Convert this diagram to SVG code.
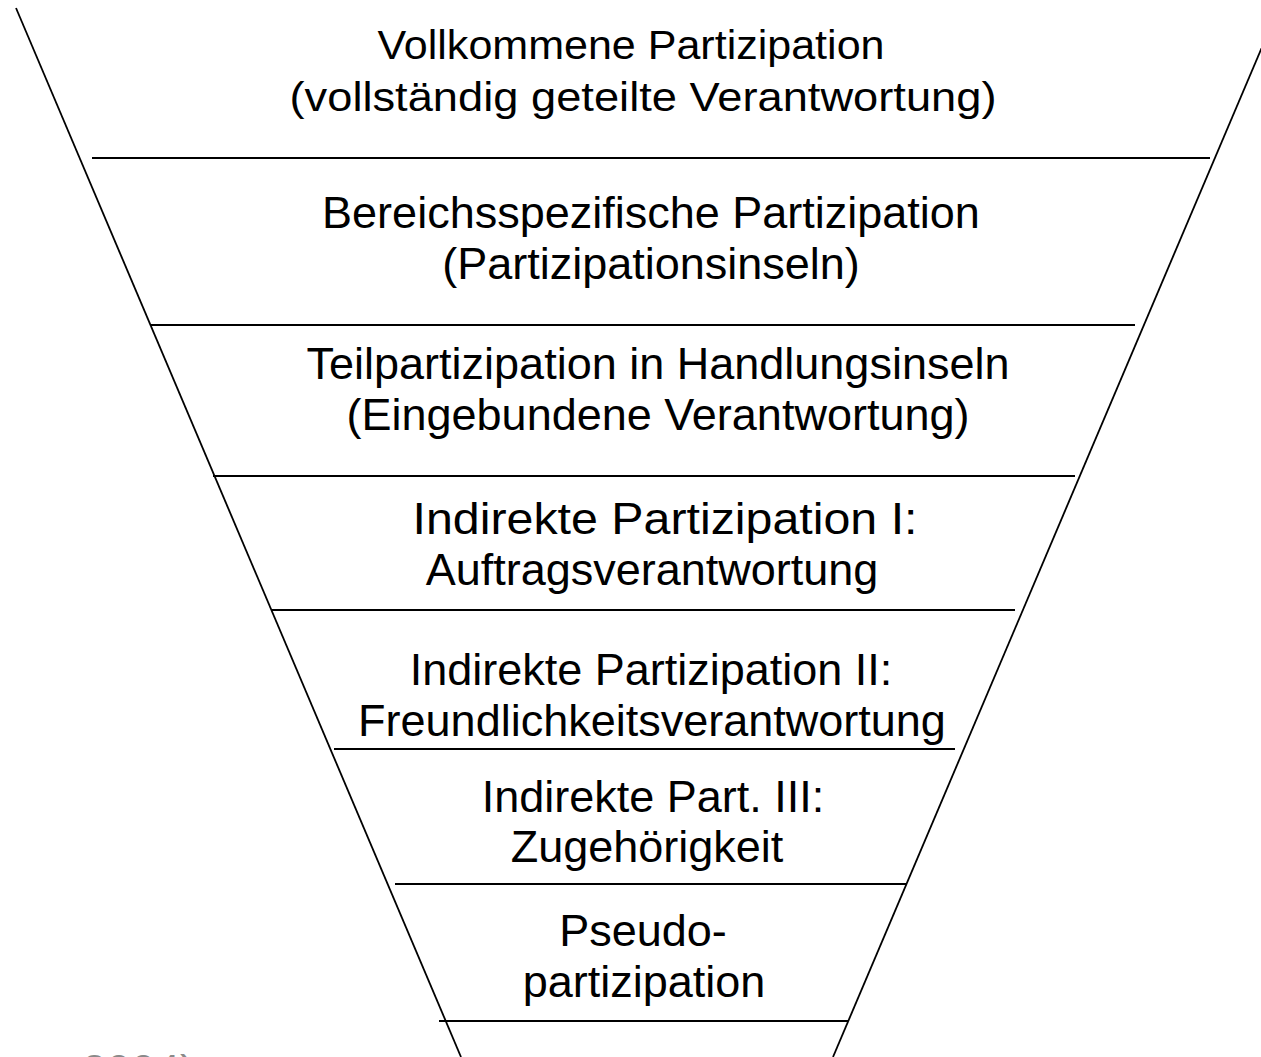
<svg xmlns="http://www.w3.org/2000/svg" width="1261" height="1057" viewBox="0 0 1261 1057">
<style>
.t{font-family:"Liberation Sans",Arial,sans-serif;font-size:45px;fill:#000;text-anchor:middle}
.t1{font-size:41px}
.h{stroke:#000;stroke-width:2;fill:none}
.d{stroke:#000;stroke-width:1.8;fill:none}
.src{font-family:"Liberation Sans",Arial,sans-serif;font-size:44px;fill:#8a8a8a}
</style>
<rect width="1261" height="1057" fill="#fff"/>
<g id="connectors">
<line class="d" x1="16" y1="8" x2="461" y2="1057"/>
<line class="d" x1="1282" y1="0" x2="833" y2="1057"/>
<line class="h" x1="92" y1="158" x2="1210" y2="158"/>
<line class="h" x1="150" y1="325" x2="1135" y2="325"/>
<line class="h" x1="213" y1="476" x2="1075" y2="476"/>
<line class="h" x1="272" y1="610" x2="1015" y2="610"/>
<line class="h" x1="334" y1="749" x2="955" y2="749"/>
<line class="h" x1="395" y1="884" x2="907" y2="884"/>
<line class="h" x1="439" y1="1021" x2="848" y2="1021"/>
</g>
<g id="level1"><text class="t t1" x="631" y="59" textLength="507" lengthAdjust="spacingAndGlyphs">Vollkommene Partizipation</text><text class="t t1" x="643" y="111" textLength="707" lengthAdjust="spacingAndGlyphs">(vollständig geteilte Verantwortung)</text></g>
<g id="level2"><text class="t" x="651" y="228">Bereichsspezifische Partizipation</text><text class="t" x="651" y="279">(Partizipationsinseln)</text></g>
<g id="level3"><text class="t" x="658" y="379">Teilpartizipation in Handlungsinseln</text><text class="t" x="658" y="430">(Eingebundene Verantwortung)</text></g>
<g id="level4"><text class="t" x="665" y="534" textLength="505" lengthAdjust="spacingAndGlyphs">Indirekte Partizipation I:</text><text class="t" x="652" y="585">Auftragsverantwortung</text></g>
<g id="level5"><text class="t" x="651" y="685">Indirekte Partizipation II:</text><text class="t" x="652" y="736">Freundlichkeitsverantwortung</text></g>
<g id="level6"><text class="t" x="653" y="812">Indirekte Part. III:</text><text class="t" x="647" y="862">Zugehörigkeit</text></g>
<g id="level7"><text class="t" x="643" y="946">Pseudo-</text><text class="t" x="644" y="997">partizipation</text></g>
<text class="src" x="82" y="1086">2004)</text>
</svg>
